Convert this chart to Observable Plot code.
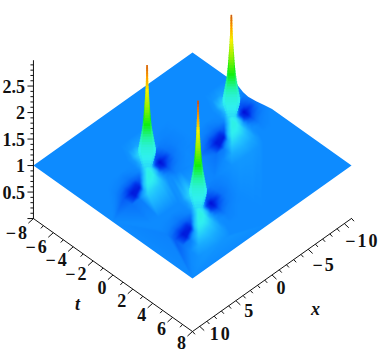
<!DOCTYPE html>
<html><head><meta charset="utf-8">
<script src="https://cdn.jsdelivr.net/npm/d3@7"></script>
<script src="https://cdn.jsdelivr.net/npm/@observablehq/plot@0.6"></script>
<style>
html,body{margin:0;padding:0;background:#fff}
svg{display:block}
.spaced text{letter-spacing:2px}
</style></head><body><div id="chart"></div>
<script>
// value axes
const xRange = [-11, 11];
const tRange = [-8, 8];
const xMajor = [-10, -5, 0, 5, 10];
const tMajor = [-8, -6, -4, -2, 0, 2, 4, 6, 8];
const zMajor = [0.5, 1, 1.5, 2, 2.5];
const xTicks = d3.range(-11, 12);
const tTicks = d3.range(-8, 9);
const zTicks = d3.range(0, 30).map(d => d / 10);
const zTop = 2.98;

// the three peaks of the surface
const peakX = [-7.11, 3.6, 4.06];
const peakT = [-1.21, -1.9, 3.56];
const peakTop = [2.98, 2.98, 3.05];

// surface height around a peak: rows dx, columns dt
const lumpDx = [-4.4, -3.3, -2.2, -1.65, -1.1, -0.55, 0, 0.55, 1.1, 1.65, 2.2, 3.3, 4.4];
const lumpDt = [-3.2, -2.4, -1.6, -1.2, -0.8, -0.4, 0, 0.4, 0.8, 1.2, 1.6, 2.4, 3.2];
const lumpZ = [
  [1, 1, .98, .97, .97, .97, .98, .99, 1, 1, 1, 1, 1],
  [1, 1.02, .99, .96, .94, .92, .92, .95, .97, .99, 1, 1, 1],
  [1, 1.08, 1.12, 1.05, .85, .78, .68, .8, .9, .96, .98, 1, 1],
  [1, 1.08, 1.2, 1.15, 1.05, .8, .55, .62, .82, .92, .97, 1, 1],
  [1, 1.05, 1.3, 1.3, 1.25, 1.2, .75, .72, .87, .96, 1, 1, 1],
  [1, 1.03, 1.2, 1.22, 1.25, 1.3, 1.3, 1.2, 1.06, 1.04, 1.02, 1, 1],
  [1, 1, 1.04, 1.05, 1.1, 1.25, 1.38, 1.38, 1.3, 1.22, 1.15, 1.06, 1],
  [1, 1, 1, 1, 1, 1, 1.2, 1.38, 1.36, 1.3, 1.22, 1.1, 1.03],
  [1, 1, 1, 1, .99, .97, .9, 1.2, 1.36, 1.32, 1.24, 1.12, 1.04],
  [1, 1, 1, 1, .98, .95, .88, .8, 1.2, 1.32, 1.26, 1.14, 1.05],
  [1, 1, 1, 1, .97, .94, .86, .68, .62, 1.1, 1.26, 1.14, 1.05],
  [1, 1, 1, 1, .99, .97, .9, .76, .6, .62, .95, 1.12, 1.05],
  [1, 1, 1, 1, 1, .99, .97, .92, .85, .88, .92, 1, 1.03]
];

// the spike: height, half width (in x units) of its silhouette, and the value its colour shows
const spikeZ = [3.05,3,2.95,2.9,2.85,2.8,2.75,2.7,2.65,2.6,2.55,2.5,2.45,2.4,2.35,2.3,2.25,2.2,2.15,2.1,2.05,2,1.95,1.9,1.85,1.8,1.75,1.7,1.65,1.6,1.55,1.5,1.45,1.4,1.35,1.3,1.25,1.2,1.15,1.1];
const spikeHalf = [.12,.12,.12,.14,.14,.15,.15,.17,.18,.19,.22,.24,.25,.28,.30,.33,.36,.39,.41,.44,.47,.50,.54,.58,.62,.68,.73,.80,.87,.94,1.01,1.08,1.15,1.22,1.2,1.14,1.04,.92,.8,.66];
const spikeTone = [3.05,3,2.95,2.9,2.85,2.8,2.75,2.7,2.65,2.6,2.55,2.5,2.45,2.4,2.35,2.3,2.25,2.2,2.15,2.1,2.05,2,1.95,1.9,1.85,1.8,1.75,1.7,1.65,1.6,1.55,1.5,1.45,1.42,1.4,1.38,1.36,1.34,1.32,1.3];

// far edge of the surface (x = -11): height along t
const edgeT = [-8, -3.6, -2.9, -2.4, -1.6, -0.8, 0, 8];
const edgeZ = [1, 1, 0.93, 0.91, 0.93, 0.97, 1, 1];

const colorZ = [0.5, 0.75, 1, 1.2, 1.35, 1.6, 1.85, 2.2, 2.5, 2.75, 3.05];
const colorHex = ["#0000d0", "#0040f0", "#0d8bff", "#20c0ff", "#30f0f0", "#20f5a0", "#10f010", "#a0f000", "#ffee00", "#ff9000", "#b04030"];

// fixed view of the box: x, t, z -> the two plot coordinates
const px = (x, t) => 192 + 9.94 * t - 7.23 * x;
const py = (x, t, z) => 218 + 7.06 * t + 5.14 * x - 53 * z;

const samples = [];
for (const t of [-8, 0, 8]) for (const x of [-11, 0, 11]) samples.push({x, t, z: 1});
peakX.forEach((x0, p) => lumpDx.forEach((dx, r) => lumpDt.forEach((dt, c) => {
  // neighbouring patches share this ground: each keeps its own side
  if ((p === 1 && dt > 2) || (p === 2 && dt < -2)) return;
  samples.push({x: x0 + dx, t: peakT[p] + dt, z: lumpZ[r][c]});
})));
samples.forEach(d => { d.sx = px(d.x, d.t); d.sy = py(d.x, d.t, 1); });

const slices = [];
peakX.forEach((x0, p) => spikeZ.forEach((z, i) => {
  if (z > peakTop[p]) return;
  const cx = px(x0, peakT[p]), h = spikeHalf[i] * 7.23;
  const base = py(x0, peakT[p], z);
  slices.push({cx, h, y1: base - 1.7, y2: base + 1.7, z: spikeTone[i]});
}));

const outline = [
  ...edgeT.map((t, i) => [px(-11, t), py(-11, t, edgeZ[i])]),
  [px(11, 8), py(11, 8, 1)],
  [px(11, -8), py(11, -8, 1)]
];

const line = pts => Plot.line(pts, {x: d => d[0], y: d => d[1], stroke: "#111", strokeWidth: 1});
const xOffset = new Map([[-10, 18], [-5, 16], [0, 10], [5, 14], [10, 21]]);
const labelFont = {fontFamily: "Liberation Serif", fontWeight: "bold", fontSize: 18, fill: "#111"};

const chart = Plot.plot({
  width: 384, height: 352,
  marginTop: 0, marginRight: 0, marginBottom: 0, marginLeft: 0,
  x: {domain: [0, 384], range: [0, 384], axis: null},
  y: {domain: [0, 352], range: [0, 352], axis: null},
  color: {type: "linear", domain: colorZ, range: colorHex, clamp: true},
  marks: [
    Plot.raster(samples, {x: "sx", y: "sy", fill: "z", interpolate: "barycentric",
      x1: 0, y1: 0, x2: 384, y2: 352, width: 384, height: 352, className: "surface"}),
    Plot.rect(slices, {x1: d => d.cx - d.h, x2: d => d.cx + d.h, y1: "y1", y2: "y2", fill: d => 1 + (d.z - 1) * 0.88}),
    Plot.rect(slices, {x1: d => d.cx - d.h * 0.7, x2: d => d.cx + d.h * 0.7, y1: "y1", y2: "y2", fill: "z"}),
    // axes of the box
    line([[px(11, -8), py(11, -8, 0)], [px(11, 8), py(11, 8, 0)]]),
    line([[px(11, 8), py(11, 8, 0)], [px(-11, 8), py(-11, 8, 0)]]),
    line([[px(11, -8), py(11, -8, 0)], [px(11, -8), py(11, -8, zTop)]]),
    Plot.link(tTicks, {
      x1: t => px(11, t), y1: t => py(11, t, 0),
      x2: t => px(11 + (t % 2 ? 0.35 : 0.7), t), y2: t => py(11 + (t % 2 ? 0.35 : 0.7), t, 0) + 1,
      stroke: "#111", strokeWidth: 1}),
    Plot.link(xTicks, {
      x1: x => px(x, 8), y1: x => py(x, 8, 0),
      x2: x => px(x, 8 + (x % 5 ? 0.25 : 0.45)), y2: x => py(x, 8 + (x % 5 ? 0.25 : 0.45), 0) + 1,
      stroke: "#111", strokeWidth: 1}),
    Plot.link(zTicks, {
      x1: z => px(11, -8), y1: z => py(11, -8, z),
      x2: z => px(11, -8) - (z * 10 % 5 ? 3 : 6), y2: z => py(11, -8, z),
      stroke: "#111", strokeWidth: 1}),
    Plot.text(zMajor, {x: () => 24.5, y: z => py(11, -8, z) + 1, text: z => String(z), textAnchor: "end", ...labelFont}),
    Plot.text(tMajor, {x: t => px(11, t) - 4.5, y: t => py(11, t, 0) + 12.9 - 0.21 * t, text: t => String(t).replace("-", "\u2212"),
      textAnchor: "end", className: "spaced", ...labelFont}),
    Plot.text(xMajor, {x: x => px(x, 8) + xOffset.get(x), y: x => py(x, 8, 0) + 13 - x * 0.5,
      text: x => String(x).replace("-", "\u2212"), textAnchor: "middle", className: "spaced", ...labelFont}),
    Plot.text(["t"], {x: () => 77, y: () => 304, text: d => d, ...labelFont, fontStyle: "italic"}),
    Plot.text(["x"], {x: () => 315, y: () => 309, text: d => d, ...labelFont, fontStyle: "italic"})
  ]
});

// keep the surface inside its own outline, in the plot's coordinates
const fx = chart.scale("x").apply, fy = chart.scale("y").apply;
const ns = "http://www.w3.org/2000/svg";
const cp = document.createElementNS(ns, "clipPath"); cp.id = "surface-outline";
const poly = document.createElementNS(ns, "polygon");
poly.setAttribute("points", outline.map(([a, b]) => fx(a) + "," + fy(b)).join(" "));
cp.appendChild(poly); chart.appendChild(cp);
chart.querySelector("image").setAttribute("clip-path", "url(#surface-outline)");
document.getElementById("chart").appendChild(chart);
</script></body></html>
